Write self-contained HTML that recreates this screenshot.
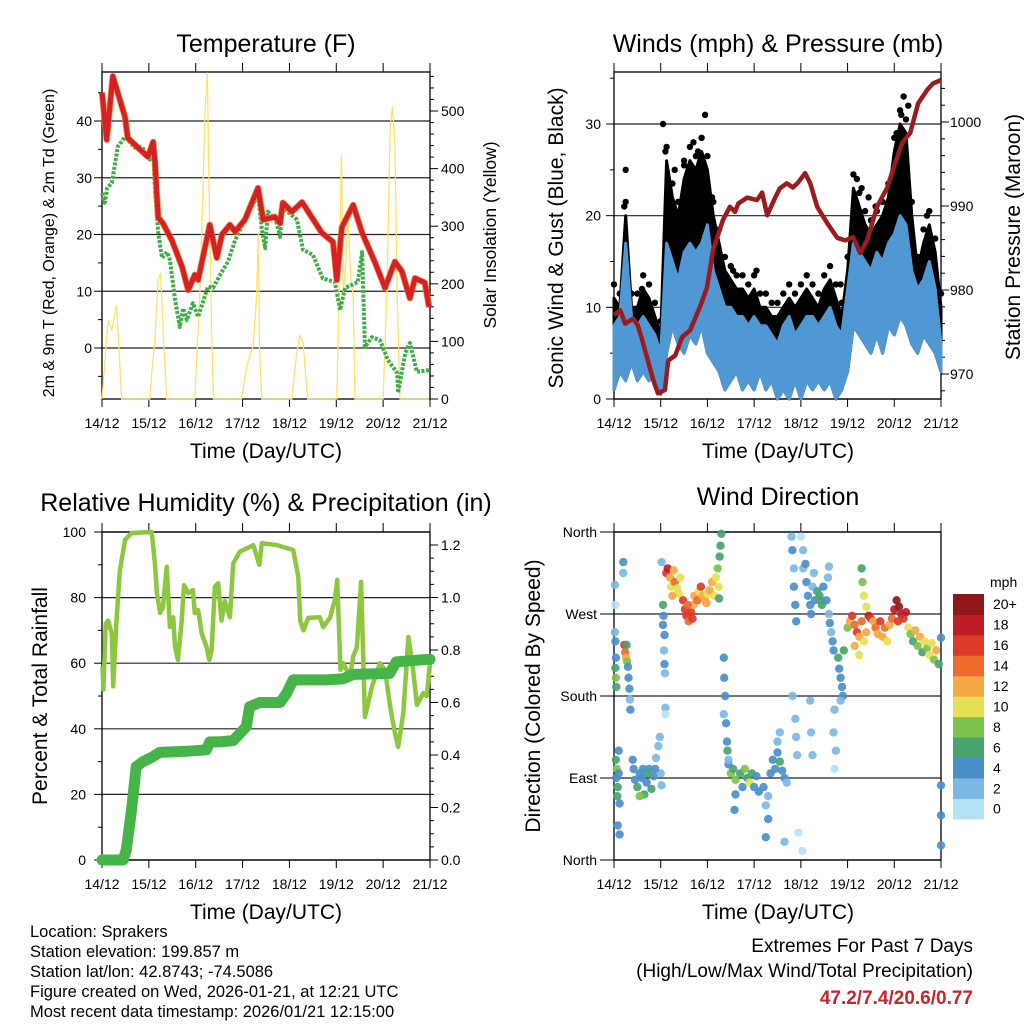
<!DOCTYPE html>
<html><head><meta charset="utf-8">
<style>
html,body{margin:0;padding:0;background:#fff;}
svg{display:block;font-family:"Liberation Sans",Arial,sans-serif;}
</style></head>
<body>
<svg id="c" xmlns="http://www.w3.org/2000/svg" width="1024" height="1024" viewBox="0 0 1024 1024">
<rect width="1024" height="1024" fill="#fff"/>
<text x="266" y="52" font-size="25" text-anchor="middle">Temperature (F)</text>
<text x="778" y="52" font-size="25" text-anchor="middle">Winds (mph) &amp; Pressure (mb)</text>
<text x="266" y="511" font-size="25" text-anchor="middle">Relative Humidity (%) &amp; Precipitation (in)</text>
<text x="778" y="505" font-size="25" text-anchor="middle">Wind Direction</text>
<text x="266" y="458" font-size="21" text-anchor="middle">Time (Day/UTC)</text>
<text x="778" y="458" font-size="21" text-anchor="middle">Time (Day/UTC)</text>
<text x="266" y="919" font-size="21" text-anchor="middle">Time (Day/UTC)</text>
<text x="778" y="919" font-size="21" text-anchor="middle">Time (Day/UTC)</text>
<text transform="translate(54,243) rotate(-90)" font-size="16" text-anchor="middle">2m &amp; 9m T (Red, Orange) &amp; 2m Td (Green)</text>
<text transform="translate(496,235) rotate(-90)" font-size="17.5" text-anchor="middle">Solar Insolation (Yellow)</text>
<text transform="translate(563,238) rotate(-90)" font-size="21" text-anchor="middle">Sonic Wind &amp; Gust (Blue, Black)</text>
<text transform="translate(1020,237) rotate(-90)" font-size="21" text-anchor="middle">Station Pressure (Maroon)</text>
<text transform="translate(47,696) rotate(-90)" font-size="21" text-anchor="middle">Percent &amp; Total Rainfall</text>
<text transform="translate(540,696) rotate(-90)" font-size="21" text-anchor="middle">Direction (Colored By Speed)</text>
<g font-size="16.5">
<text x="30" y="937">Location: Sprakers</text>
<text x="30" y="957">Station elevation: 199.857 m</text>
<text x="30" y="977">Station lat/lon: 42.8743; -74.5086</text>
<text x="30" y="997">Figure created on Wed, 2026-01-21, at 12:21 UTC</text>
<text x="30" y="1017">Most recent data timestamp: 2026/01/21 12:15:00</text>
</g>
<text x="973" y="952" font-size="19" text-anchor="end">Extremes For Past 7 Days</text>
<text x="973" y="977" font-size="19" text-anchor="end">(High/Low/Max Wind/Total Precipitation)</text>
<text x="973" y="1004" font-size="19" font-weight="bold" fill="#c4262e" text-anchor="end">47.2/7.4/20.6/0.77</text>
</svg>
<script>
// ---------- data ----------
const dayLabels=["14/12","15/12","16/12","17/12","18/12","19/12","20/12","21/12"];
const tTime=[0,0.1,0.23,0.49,0.55,0.77,0.98,1.09,1.13,1.2,1.3,1.49,1.71,1.84,1.98,2.05,2.2,2.3,2.45,2.56,2.73,2.84,3.05,3.33,3.44,3.69,3.8,3.86,4.05,4.27,4.69,4.93,5.01,5.12,5.36,5.55,5.83,6.04,6.25,6.4,6.57,6.68,6.89,6.98];
const tVal=[45,36.7,47.9,40.7,37,35.3,33.7,36.3,33,23,22,19,14.3,10.2,12.9,12,17.8,21.7,15.9,20,21.7,20.5,22.6,28.2,22.6,23.1,22,25.6,24,25.7,20.3,18.7,12,21.3,25.2,20.3,15,10.6,15.2,13.5,8.8,12.3,11.5,7.2];
const tdTime=[0,0.06,0.11,0.21,0.34,0.49,0.7,0.85,1.02,1.09,1.13,1.2,1.28,1.39,1.45,1.56,1.66,1.73,1.81,1.94,2.05,2.26,2.37,2.52,2.69,2.84,3.05,3.33,3.41,3.48,3.54,3.71,3.8,3.84,4.16,4.29,4.5,4.71,4.97,5.08,5.19,5.46,5.55,5.61,5.76,5.93,6.1,6.3,6.32,6.47,6.57,6.72,6.98];
const tdVal=[27.3,25.6,28.2,29.1,35.5,37.2,35.3,35.5,33.2,35.5,27.9,20.3,15.9,16.9,15.5,8.5,3.7,7,4.9,7.9,5.5,10.8,10.6,12.9,15.2,19,22.6,27,21,17.6,24,22.6,19.6,24.9,22.6,17.3,16.4,12.3,11.6,6.7,10.6,11.6,16.9,0.2,1.9,1.4,-2.1,-4.4,-7.9,-0.9,0.9,-4.2,-3.9];
const solarTime=[0,0.13,0.21,0.31,0.42,1.02,1.06,1.13,1.2,1.25,1.31,1.38,1.98,2.09,2.16,2.2,2.25,2.28,2.34,2.38,2.98,3.09,3.23,3.3,3.34,3.36,3.41,4.05,4.15,4.22,4.29,4.39,5.01,5.06,5.11,5.15,5.22,5.25,5.31,5.36,5.4,6.0,6.08,6.15,6.2,6.25,6.3,6.36,6.98];
const solarVal=[0,137,120,163,0,0,45,103,207,219,110,0,0,184,381,502,567,390,120,0,0,58,93,180,289,93,0,0,75,110,99,0,0,180,424,180,261,323,210,180,0,0,180,473,508,443,180,0,0];

const windTime=[0,0.125,0.25,0.375,0.5,0.625,0.75,0.875,1,1.125,1.25,1.375,1.5,1.625,1.75,1.875,2,2.125,2.25,2.375,2.5,2.625,2.75,2.875,3,3.125,3.25,3.375,3.5,3.625,3.75,3.875,4,4.125,4.25,4.375,4.5,4.625,4.75,4.875,5,5.125,5.25,5.375,5.5,5.625,5.75,5.875,6,6.125,6.25,6.375,6.5,6.625,6.75,6.875,7];
const windLo=[1,3,2,4,2,3,2,3,0.5,5,8,6,5,7,6,8,5,4,3,1,2,3,1,2,1,3,1,2,0,1,0,2,0,2,1,2,1,2,0,1,3,8,7,6,5,7,5,8,7,9,8,6,5,7,6,5,3];
const windHi=[8,9,17,9,8,9,8,7,5,17,15,13,16,17,16,17,19,14,12,10,10,9,9,8,9,8,8,7,6,8,9,7,8,9,9,8,9,10,8,7,12,17,16,15,14,16,15,17,18,20,19,14,12,13,15,12,6];
const gustHi=[11,10,20,10,10,12,11,9,7,26,22,20,24,26,25,27,25,20,17,14,13,12,12,11,12,10,10,9,9,10,11,10,11,12,11,10,12,13,11,9,14,23,21,19,18,19,20,22,27,30,29,20,14,17,19,16,10];
const gustPeakTime=[0.25,0.22,1.05,1.1,1.95,1.8,1.5,6.2,6.3,6.15,5.2,5.3,2.55,3.05,4.85,6.7,5.6,0.6,1.3,1.7,2.1,5.45,6.05];
const gustPeakVal=[25,21,30,27,31,27,26,33,32,31,24,23,14,14,12.5,20,21,12,25,28,22,22,29];
const presTime=[0,0.13,0.24,0.41,0.51,0.62,0.84,0.94,1.09,1.16,1.31,1.46,1.63,1.84,1.99,2.12,2.33,2.48,2.59,2.66,2.85,3.06,3.17,3.28,3.45,3.55,3.7,3.83,3.94,4.09,4.2,4.35,4.56,4.78,4.95,5.12,5.27,5.42,5.63,5.85,5.97,6.17,6.34,6.51,6.7,6.83,7];
const presVal=[977,977.6,976,976.6,975.8,973.7,969.3,967.7,968.1,971.6,972.2,974.4,975.2,978,980.3,984.7,988.3,989.9,989.3,990.3,991,990.7,991.6,988.9,991,992.1,992.7,992.2,992.8,993.9,992.7,989.9,988,986.2,985.9,986.3,984.4,985.9,989.9,992.2,994.3,997.5,998.7,1002.2,1003.8,1004.6,1005];

const rhTime=[0.01,0.03,0.08,0.13,0.21,0.24,0.31,0.38,0.49,0.63,1.06,1.13,1.17,1.24,1.3,1.38,1.45,1.52,1.56,1.62,1.7,1.75,1.84,1.94,1.98,2.05,2.13,2.23,2.29,2.34,2.41,2.48,2.55,2.62,2.73,2.8,2.94,3.23,3.36,3.41,3.73,4.08,4.19,4.23,4.3,4.4,4.65,4.72,4.87,4.97,5.02,5.09,5.15,5.29,5.36,5.44,5.53,5.61,5.76,5.93,6.04,6.15,6.25,6.32,6.43,6.54,6.64,6.72,6.86,6.93,7];
const rhVal=[59,52,72,73,69,53,73,88,97.6,99.7,100,90.5,81.8,75.3,77,89.4,71,74,65,61,73,83.8,81.4,82.3,75.3,76.2,69,65,61,64,83.3,84.4,73,79,74,90.4,94,96,90,96.6,96,94.5,86.3,73,70,73.8,74,71,74,79.3,85.4,58,60,55.8,62,65,84.8,43.6,52.8,60,58,46.7,38.7,34.5,44.8,68,58,47.3,50.9,50,60];
const precipTime=[0,0.45,0.52,0.63,0.73,0.87,1.09,1.23,1.8,2.23,2.3,2.51,2.8,2.94,3.08,3.15,3.37,3.8,3.94,4.08,4.79,5.14,5.36,6.14,6.28,6.78,7];
const precipVal=[0,0,0.04,0.19,0.355,0.374,0.394,0.41,0.414,0.42,0.45,0.45,0.455,0.482,0.508,0.584,0.6,0.6,0.635,0.686,0.686,0.69,0.707,0.711,0.755,0.762,0.765];

const dirDay=[0.02,0.03,0.02,0.03,0.04,0.03,0.04,0.05,0.04,0.06,0.05,0.08,0.07,0.1,0.12,0.08,0.12,0.1,
0.2,0.2,0.22,0.24,0.26,0.27,0.28,0.3,0.31,0.33,0.34,0.35,
0.4,0.45,0.5,0.55,0.6,0.65,0.7,0.75,0.8,0.85,0.9,0.95,1.0,0.98,0.55,0.42,0.62,0.72,0.88,1.02,
1.02,1.05,1.06,1.05,1.08,1.07,1.08,1.09,1.1,1.1,
1.12,1.15,1.2,1.22,1.28,1.3,1.35,1.4,1.42,1.48,1.52,1.55,1.6,1.65,1.7,1.72,1.78,1.82,1.86,1.9,1.95,2.0,2.05,2.1,2.15,2.18,2.22,2.24,2.26,2.28,2.3,2.25,1.25,1.58,1.68,1.98,
2.35,2.36,2.38,2.35,2.4,2.42,2.43,2.45,2.5,2.55,2.6,2.7,2.75,2.8,2.85,2.9,2.95,3.0,3.05,3.1,2.6,2.58,2.45,
3.2,3.25,3.3,3.3,3.35,3.4,3.45,3.5,3.55,3.5,3.6,3.65,3.7,3.65,3.25,3.55,
3.8,3.82,3.85,3.85,3.88,3.9,3.82,3.88,3.9,3.92,3.95,
4.0,4.05,4.05,4.1,4.12,4.15,4.2,4.22,4.25,4.3,4.28,4.35,4.4,4.42,4.45,4.48,4.2,4.22,4.25,4.03,
4.55,4.6,4.62,4.65,4.68,4.7,4.58,4.6,4.72,4.7,4.75,4.72,
4.8,4.82,4.85,4.88,4.9,4.85,4.92,
5.0,5.05,5.1,5.15,5.2,5.25,5.3,5.35,5.4,5.45,5.5,5.3,5.32,5.35,5.4,5.15,5.25,
5.55,5.6,5.65,5.7,5.75,5.8,5.85,5.9,5.95,
6.0,6.05,6.1,6.15,6.2,6.25,6.08,
6.3,6.35,6.4,6.45,6.5,6.55,6.6,6.65,6.7,6.75,6.8,6.85,6.9,6.95,
7.0,7.0,7.0,7.0];
const dirDeg=[302,280,250,240,222,211,200,190,110,100,90,80,70,95,62,38,28,120,
327,315,236,228,222,236,218,212,200,188,176,165,
110,88,80,95,90,72,85,100,78,92,112,125,95,135,70,100,100,95,100,82,
327,280,268,258,247,230,215,205,167,160,
315,320,310,300,318,305,298,292,310,285,275,268,262,272,280,290,285,295,300,290,285,292,296,305,290,310,320,300,333,345,358,287,290,280,265,282,
222,200,180,160,150,130,120,105,95,100,88,95,80,100,90,85,95,80,92,75,72,55,110,
80,60,45,70,95,110,100,118,108,130,98,90,85,20,25,140,
355,340,320,300,280,262,180,155,135,115,30,
355,340,320,325,305,290,280,270,300,285,315,295,290,285,280,300,175,140,115,10,
285,270,260,250,240,230,310,322,165,140,120,100,
222,210,200,190,180,175,230,
255,262,268,258,250,245,262,240,250,268,265,320,305,290,278,235,225,
262,255,248,262,245,255,240,258,265,
275,285,278,270,265,272,262,
255,248,240,252,235,245,228,240,232,225,238,220,230,215,
244,82,49,16];
const dirSpd=[3,1,3,5,5,7,8,7,7,8,5,7,6,5,5,4,4,4,
4,3,16,15,12,7,8,5,5,4,3,4,
4,5,7,4,5,6,4,5,7,4,3,3,3,3,8,5,4,6,4,3,
2,6,5,5,4,3,5,2,2,1,
16,18,13,11,12,14,10,11,11,16,17,16,15,16,13,12,14,10,17,13,12,11,12,13,10,10,9,11,7,7,7,6,12,15,17,12,
4,5,4,3,4,5,7,5,8,7,9,6,5,8,7,10,6,5,4,4,4,4,2,
4,3,4,3,4,5,4,4,7,3,4,4,2,2,4,2,
3,4,3,4,5,4,2,2,3,2,1,
1,3,2,4,5,4,5,4,3,4,3,7,6,7,6,5,2,2,2,1,
4,3,4,3,4,4,3,2,2,2,3,1,
6,5,4,4,5,3,7,
9,13,17,15,16,12,14,11,13,19,16,7,8,10,11,12,10,
12,14,13,16,12,14,11,13,15,
18,20,21,19,16,18,17,
11,8,7,13,9,12,7,10,8,11,10,9,12,7,
4,4,4,4];
const cbLabels=["0","2","4","6","8","10","12","14","16","18","20+"];
const cbColors=["#b6e2f8","#7db8e3","#4a8fc8","#48a46c","#7dc24c","#e5df55","#f6a845","#ee6a2d","#dc3a2b","#bd1d24","#8d1719"];
const dirLabels=["North","East","South","West","North"];

// ---------- helpers ----------
const NS="http://www.w3.org/2000/svg";
const svg=document.getElementById('c');
function mk(tag,attrs,parent){const e=document.createElementNS(NS,tag);for(const k in attrs)e.setAttribute(k,attrs[k]);(parent||svg).appendChild(e);return e;}
function lin(d0,d1,r0,r1){return v=>r0+(v-d0)*(r1-r0)/(d1-d0);}
function pathD(xs,ys,fx,fy){return xs.map((t,i)=>(i?'L':'M')+fx(t).toFixed(1)+','+fy(ys[i]).toFixed(1)).join('');}
function bandD(xs,hi,lo,fx,fy){
  let d='M'+xs.map((t,i)=>fx(t).toFixed(1)+','+fy(hi[i]).toFixed(1)).join('L');
  for(let i=xs.length-1;i>=0;i--) d+='L'+fx(xs[i]).toFixed(1)+','+fy(lo[i]).toFixed(1);
  return d+'Z';
}

function frame(name,x0,x1,y0,y1){
  const g=mk('g',{});
  
  
  const fx=lin(0,7,x0,x1);
  dayLabels.forEach((l,i)=>{
    const x=fx(i);
    mk('line',{x1:x,x2:x,y1:y0-9,y2:y0,stroke:'#000','stroke-width':1},g);
    mk('line',{x1:x,x2:x,y1:y1,y2:y1+8,stroke:'#000','stroke-width':1},g);
    const t=mk('text',{x:x,y:y1+29,'font-size':14,'text-anchor':'middle'},g);
    t.textContent=l;
    
    
  });
  return {g,fx};
}
function leftAxis(g,x0,x1,fy,ticks,labels,grid,minor,lx){
  ticks.forEach((v,i)=>{
    const y=fy(v);
    mk('line',{x1:x0-8,x2:x0,y1:y,y2:y,stroke:'#000'},g);
    if(grid) mk('line',{x1:x0,x2:x1,y1:y,y2:y,stroke:'#222','stroke-width':1.2},g);
    const t=mk('text',{x:lx,y:y+5,'font-size':14,'text-anchor':'end'},g);
    t.textContent=labels[i];
    
    
  });
  minor.forEach(v=>{const y=fy(v);mk('line',{x1:x0-4,x2:x0,y1:y,y2:y,stroke:'#000'},g);});
}
function rightAxis(g,x1,fy,ticks,labels,minor,lx){
  ticks.forEach((v,i)=>{
    const y=fy(v);
    mk('line',{x1:x1,x2:x1+8,y1:y,y2:y,stroke:'#000'},g);
    const t=mk('text',{x:lx,y:y+5,'font-size':14,'text-anchor':'start'},g);
    t.textContent=labels[i];
    
    
  });
  minor.forEach(v=>{const y=fy(v);mk('line',{x1:x1,x2:x1+4,y1:y,y2:y,stroke:'#000'},g);});
}
function box(g,x0,x1,y0,y1){mk('rect',{x:x0,y:y0,width:x1-x0,height:y1-y0,fill:'none',stroke:'#000','stroke-width':1.3},g);}

// ---------- Panel 1: temperature ----------
(function(){
  const X0=102,X1=430,Y0=72,Y1=399;
  const {g,fx}=frame('temperature',X0,X1,Y0,Y1);
  const fy=lin(0,40,348,121);
  const fs=lin(0,500,399,111);
  leftAxis(g,X0,X1,fy,[0,10,20,30,40],["0","10","20","30","40"],true,[-5,5,15,25,35,45],92);
  const rt=[0,100,200,300,400,500];
  rightAxis(g,X1,fs,rt,rt.map(String),[20,40,60,80,120,140,160,180,220,240,260,280,320,340,360,380,420,440,460,480,520,540,560],441);
  const sol=mk('path',{d:pathD(solarTime,solarVal,fx,fs),fill:'none',stroke:'#fde26a','stroke-width':1.3});
  
  
  const td=mk('path',{d:pathD(tdTime,tdVal,fx,fy),fill:'none',stroke:'#3fae49','stroke-width':4,'stroke-dasharray':'3 1.5','stroke-linejoin':'round'});
  
  
  const t9=mk('path',{d:pathD(tTime,tVal,fx,fy),fill:'none',stroke:'#f58220','stroke-width':6.5,'stroke-linejoin':'round','opacity':0.85});
  
  
  const t2=mk('path',{d:pathD(tTime,tVal,fx,fy),fill:'none',stroke:'#d42027','stroke-width':5,'stroke-linejoin':'round'});
  
  
  box(g,X0,X1,Y0,Y1);
})();

// ---------- Panel 2: winds ----------
(function(){
  const X0=614,X1=941,Y0=72,Y1=399;
  const {g,fx}=frame('winds',X0,X1,Y0,Y1);
  const fy=lin(0,30,399,124);
  const fp=lin(970,1000,374,122);
  leftAxis(g,X0,X1,fy,[0,10,20,30],["0","10","20","30"],true,[5,15,25,35],601);
  const pt=[970,980,990,1000];
  rightAxis(g,X1,fp,pt,pt.map(String),[968,972,974,976,978,982,984,986,988,992,994,996,998,1002,1004],950);
  const gb=mk('path',{d:bandD(windTime,gustHi,windLo,fx,fy),fill:'#000',stroke:'#000','stroke-width':3,'stroke-linejoin':'round'});
  
  
  windTime.forEach((t,i)=>{
    const c=mk('circle',{cx:fx(t).toFixed(1),cy:fy(gustHi[i]+1.5).toFixed(1),r:3.2,fill:'#000'});
    
    
  });
  gustPeakTime.forEach((t,i)=>{
    const c=mk('circle',{cx:fx(t),cy:fy(gustPeakVal[i]),r:3.2,fill:'#000'});
    
    
  });
  const wb=mk('path',{d:bandD(windTime,windHi,windLo,fx,fy),fill:'#4f98d3',stroke:'#4f98d3','stroke-width':3,'stroke-linejoin':'round'});
  
  
  const pl=mk('path',{d:pathD(presTime,presVal,fx,fp),fill:'none',stroke:'#9b1b1f','stroke-width':4.5,'stroke-linejoin':'round'});
  
  
  box(g,X0,X1,Y0,Y1);
})();

// ---------- Panel 3: RH & precip ----------
(function(){
  const X0=102,X1=430,Y0=532,Y1=860;
  const {g,fx}=frame('humidity',X0,X1,Y0,Y1);
  const fy=lin(0,100,860,532);
  const fr=lin(0,1.2,860,545);
  leftAxis(g,X0,X1,fy,[0,20,40,60,80,100],["0","20","40","60","80","100"],true,[10,30,50,70,90],86);
  const rt=[0,0.2,0.4,0.6,0.8,1.0,1.2];
  rightAxis(g,X1,fr,rt,rt.map(v=>v.toFixed(1)),[0.05,0.1,0.15,0.25,0.3,0.35,0.45,0.5,0.55,0.65,0.7,0.75,0.85,0.9,0.95,1.05,1.1,1.15],441);
  const rh=mk('path',{d:pathD(rhTime,rhVal,fx,fy),fill:'none',stroke:'#8dc63f','stroke-width':4.5,'stroke-linejoin':'round'});
  
  
  const pr=mk('path',{d:pathD(precipTime,precipVal,fx,fr),fill:'none',stroke:'#45b549','stroke-width':11,'stroke-linejoin':'round','stroke-linecap':'round'});
  
  
  box(g,X0,X1,Y0,Y1);
})();

// ---------- Panel 4: wind direction ----------
(function(){
  const X0=614,X1=941,Y0=532,Y1=860;
  const {g,fx}=frame('direction',X0,X1,Y0,Y1);
  const fy=lin(0,360,860,532);
  leftAxis(g,X0,X1,fy,[0,90,180,270,360],dirLabels,true,[],597);
  [0,90,180,270,360].forEach(v=>mk('line',{x1:600,x2:X0,y1:fy(v),y2:fy(v),stroke:'#000'},g));
  dirDay.forEach((t,i)=>{
    const s=dirSpd[i];
    const idx=Math.min(10,Math.floor(s/2));
    const c=mk('circle',{cx:fx(t).toFixed(1),cy:fy(dirDeg[i]).toFixed(1),r:4.2,fill:cbColors[idx],'fill-opacity':0.92});
    
    
  });
  box(g,X0,X1,Y0,Y1);
  const cb=mk('g',{});
  
  
  const bh=20.45, top=594;
  cbColors.forEach((col,i)=>{
    const y=top+(10-i)*bh;
    const r=mk('rect',{x:953,y:y.toFixed(1),width:31,height:(bh+0.5).toFixed(1),fill:col},cb);
    
    
    const t=mk('text',{x:993,y:(y+bh/2+5).toFixed(1),'font-size':14},cb);
    t.textContent=cbLabels[i];
    
    
  });
  const u=mk('text',{x:990,y:587,'font-size':14},cb);
  u.textContent='mph';
  
  
})();
</script>
</body></html>
